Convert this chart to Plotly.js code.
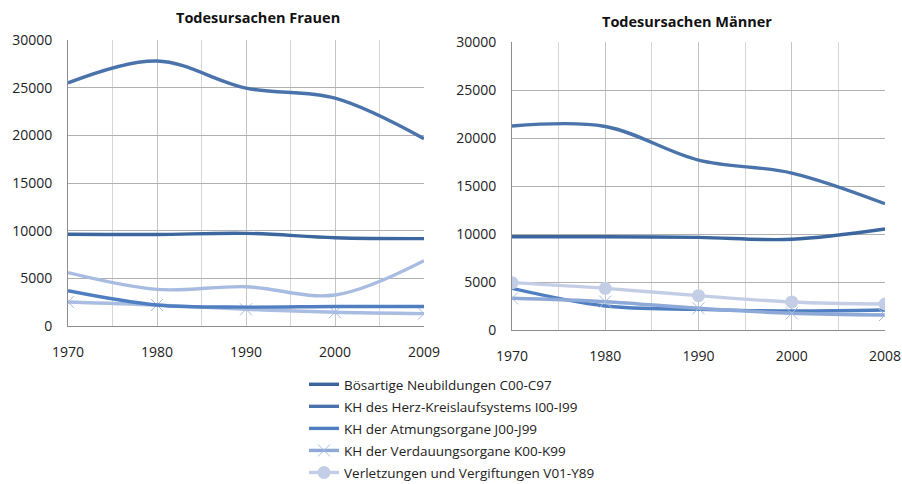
<!DOCTYPE html>
<html>
<head>
<meta charset="utf-8">
<script src="https://cdn.plot.ly/plotly-3.0.1.min.js"></script>
<style>html,body{margin:0;padding:0;background:#fff}#chart{width:902px;height:484px}</style>
</head>
<body>
<div id="chart"></div>
<script>
const yearsF = ['1970','1980','1990','2000','2009'];
const yearsM = ['1970','1980','1990','2000','2008'];
const seriesNames = [
  'Bösartige Neubildungen C00-C97',
  'KH des Herz-Kreislaufsystems I00-I99',
  'KH der Atmungsorgane J00-J99',
  'KH der Verdauungsorgane K00-K99',
  'Verletzungen und Vergiftungen V01-Y89'
];
// Frauen
const fNeubildungen = [9620, 9600, 9720, 9260, 9160];
const fHerzKreislauf = [25500, 27800, 24950, 23900, 19650];
const fAtmung = [3700, 2200, 1980, 2050, 2050];
const fVerdauung = [2520, 2200, 1750, 1440, 1300];
const fVerletzungen = [5600, 3840, 4120, 3250, 6850];
// Männer
const mNeubildungen = [9720, 9720, 9650, 9450, 10520];
const mHerzKreislauf = [21250, 21200, 17700, 16350, 13150];
const mAtmung = [4340, 2500, 2150, 1980, 2080];
const mVerdauung = [3300, 2950, 2260, 1740, 1560];
const mVerletzungen = [4930, 4340, 3580, 2920, 2710];

const colors = ['#3b679e', '#4a73ab', '#4f7fc0', '#8ea9d8', '#c3cee6'];
const fColors = ['#3b679e', '#4a73ab', '#4f7fc0', '#a9bde2', '#a8bbe0'];

const idx = yearsF.map((_, i) => i);
function tr(y, k, ax, cols, showLegend) {
  const t = {
    x: idx, y: y, name: seriesNames[k], type: 'scatter',
    mode: 'lines', legendgroup: 'g' + k,
    line: {color: cols[k], width: 3.4, shape: 'spline', smoothing: 1},
    xaxis: ax === 1 ? 'x' : 'x2', yaxis: ax === 1 ? 'y' : 'y2',
    showlegend: showLegend, hoverinfo: 'skip'
  };
  if (k === 3) {
    t.mode = 'lines+markers';
    t.marker = {symbol: 'x-thin', size: 12, line: {width: 1, color: '#a6bbe2'}, color: '#a6bbe2'};
  }
  if (k === 4 && ax === 2) {
    t.mode = 'lines+markers';
    t.marker = {symbol: 'circle', size: 13, color: cols[k]};
  }
  return t;
}
const fData = [fNeubildungen, fHerzKreislauf, fAtmung, fVerdauung, fVerletzungen];
const mData = [mNeubildungen, mHerzKreislauf, mAtmung, mVerdauung, mVerletzungen];
const traces = [];
[4,3,2,1,0].forEach(k => traces.push(tr(fData[k], k, 1, fColors, false)));
[0,1,2,3,4].forEach(k => traces.push(tr(mData[k], k, 2, colors, true)));

const W = 902, H = 484;
const FONT = 'Open Sans, Liberation Sans, sans-serif';
const tickFont = {family: FONT, size: 14, color: '#222'};
function xax(dom, years) {
  return {
    domain: dom, range: [0, 4], tickmode: 'array', tickvals: idx, ticktext: years,
    showgrid: true, gridcolor: '#c4c4c4', gridwidth: 1,
    minor: {tickmode: 'linear', tick0: 0.5, dtick: 1, showgrid: true, gridcolor: '#d6d6d6', gridwidth: 1},
    showline: true, linecolor: '#8c8c8c', linewidth: 1, ticks: '', zeroline: false,
    tickfont: tickFont, ticklabelstandoff: 13, fixedrange: true, automargin: false
  };
}
function yax(dom) {
  return {
    domain: dom, range: [0, 30000], dtick: 5000, tickformat: 'd',
    showgrid: true, gridcolor: '#b0b0b0', gridwidth: 1,
    showline: true, linecolor: '#8c8c8c', linewidth: 1, ticks: '', zeroline: false,
    tickfont: tickFont, ticklabelstandoff: 12, fixedrange: true, automargin: false
  };
}
const layout = {
  width: W, height: H,
  margin: {l: 0, r: 0, t: 0, b: 0, autoexpand: false},
  paper_bgcolor: '#ffffff', plot_bgcolor: '#ffffff',
  xaxis: Object.assign(xax([68/W, 424/W], yearsF), {anchor: 'y'}),
  yaxis: Object.assign(yax([1 - 326/H, 1 - 40/H]), {anchor: 'x'}),
  xaxis2: Object.assign(xax([512/W, 885/W], yearsM), {anchor: 'y2'}),
  yaxis2: Object.assign(yax([1 - 330/H, 1 - 42/H]), {anchor: 'x2'}),
  showlegend: true,
  legend: {
    x: 304/W, y: 1 - 369/H, xanchor: 'left', yanchor: 'top',
    font: {family: FONT, size: 13.5, color: '#222'},
    bgcolor: 'rgba(0,0,0,0)', traceorder: 'grouped', itemwidth: 30, tracegroupgap: 1.5
  },
  annotations: [
    {text: '<b>Todesursachen Frauen</b>', xref: 'paper', yref: 'paper', x: 258/W, y: 1 - 18/H,
     xanchor: 'center', yanchor: 'middle', showarrow: false,
     font: {family: FONT, size: 14.5, color: '#111'}},
    {text: '<b>Todesursachen Männer</b>', xref: 'paper', yref: 'paper', x: 687/W, y: 1 - 22/H,
     xanchor: 'center', yanchor: 'middle', showarrow: false,
     font: {family: FONT, size: 14.5, color: '#111'}}
  ]
};
Plotly.newPlot('chart', traces, layout, {displayModeBar: false, staticPlot: true});
</script>
</body>
</html>
